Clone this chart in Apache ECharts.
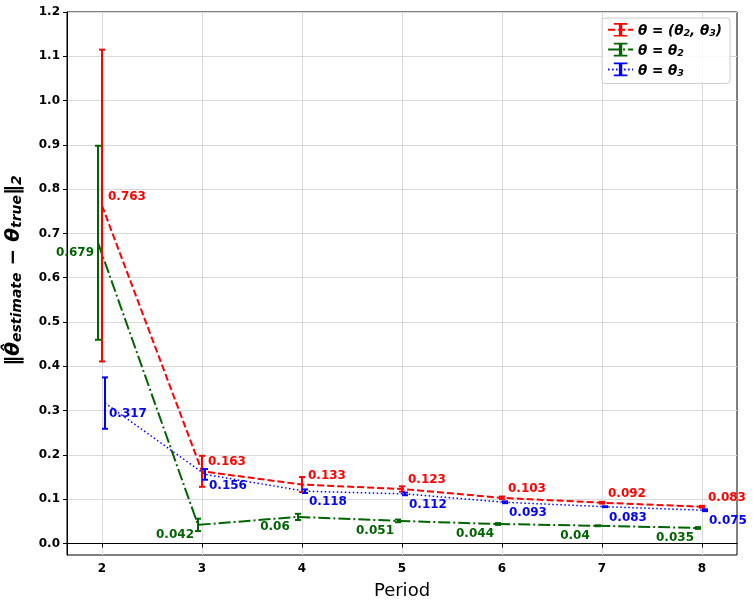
<!DOCTYPE html>
<html>
<head>
<meta charset="utf-8">
<script src="https://cdn.jsdelivr.net/npm/echarts@6/dist/echarts.min.js"></script>
<style>
html, body { margin: 0; padding: 0; background: #fff; }
#chart { width: 753px; height: 604px; }
</style>
</head>
<body>
<div id="chart"></div>
<script>
// data
const periods = [2, 3, 4, 5, 6, 7, 8];
const jointMean = [0.763, 0.163, 0.133, 0.123, 0.103, 0.092, 0.083];
const jointErr = [0.352, 0.035, 0.017, 0.006, 0.003, 0.002, 0.002];
const theta2Mean = [0.679, 0.042, 0.06, 0.051, 0.044, 0.04, 0.035];
const theta2Err = [0.219, 0.014, 0.007, 0.003, 0.002, 0.001, 0.002];
const theta3Mean = [0.317, 0.156, 0.118, 0.112, 0.093, 0.083, 0.075];
const theta3Err = [0.058, 0.012, 0.004, 0.003, 0.002, 0.001, 0.002];
const yTicks = [0, 0.1, 0.2, 0.3, 0.4, 0.5, 0.6, 0.7, 0.8, 0.9, 1.0, 1.1, 1.2];

const FONT = 'DejaVu Sans';

const myChart = echarts.init(document.getElementById('chart'));

// small horizontal shift so the error bars don't sit on top of each other
function pts(mean, shift) {
    return periods.map((p, i) => [p + shift, mean[i]]);
}
function bars(mean, err, shift) {
    return periods.map((p, i) => [p + shift, mean[i] - err[i], mean[i] + err[i]]);
}

function errorBar(color) {
    return function (params, api) {
        const x = api.value(0);
        const lo = api.coord([x, api.value(1)]);
        const hi = api.coord([x, api.value(2)]);
        const st = { stroke: color, lineWidth: 2 };
        const w = 3;
        return {
            type: 'group',
            children: [
                { type: 'line', shape: { x1: lo[0], y1: lo[1], x2: hi[0], y2: hi[1] }, style: st },
                { type: 'line', shape: { x1: lo[0] - w, y1: lo[1], x2: lo[0] + w, y2: lo[1] }, style: st },
                { type: 'line', shape: { x1: hi[0] - w, y1: hi[1], x2: hi[0] + w, y2: hi[1] }, style: st }
            ]
        };
    };
}

// I-beam used as the legend marker
const barIcon = 'path://M0,0 H8 V2 H5 V14 H8 V16 H0 V14 H3 V2 H0 Z';

const names = ['joint', 'theta2', 'theta3'];
const legendText = {
    joint: '{t|θ = (θ}{s|2}{t|, θ}{s|3}{t|)}',
    theta2: '{t|θ = θ}{s|2}',
    theta3: '{t|θ = θ}{s|3}'
};

function lineSeries(name, mean, shift, color, dash, width, labelPos, labelAlign) {
    return {
        name: name,
        type: 'line',
        data: pts(mean, shift),
        symbol: barIcon,
        symbolSize: 0,
        symbolKeepAspect: true,
        showSymbol: true,
        itemStyle: { color: color },
        lineStyle: { color: color, width: width, type: dash },
        label: {
            show: true,
            position: labelPos,
            align: labelAlign,
            verticalAlign: 'middle',
            color: color,
            fontFamily: FONT,
            fontWeight: 'bold',
            fontSize: 12,
            formatter: p => String(p.value[1])
        },
        z: 3
    };
}

function barSeries(name, mean, err, shift, color) {
    return {
        name: name,
        type: 'custom',
        data: bars(mean, err, shift),
        encode: { x: 0, y: [1, 2] },
        renderItem: errorBar(color),
        z: 4
    };
}

const option = {
    animation: false,
    grid: {
        left: 67, right: 16, top: 12, bottom: 49,
        outerBoundsMode: 'none',
        show: true, borderColor: '#000', borderWidth: 1
    },
    legend: {
        data: names,
        orient: 'vertical',
        right: 23,
        top: 18,
        itemWidth: 25,
        itemHeight: 17,
        itemGap: 4,
        padding: [5, 8, 5, 5],
        backgroundColor: 'rgba(255,255,255,0.8)',
        borderColor: '#cccccc',
        borderWidth: 1,
        borderRadius: 3,
        formatter: n => legendText[n],
        textStyle: {
            rich: {
                t: { fontFamily: FONT, fontWeight: 'bold', fontStyle: 'italic', fontSize: 13.5, color: '#000', verticalAlign: 'bottom', lineHeight: 18 },
                s: { fontFamily: FONT, fontWeight: 'bold', fontStyle: 'italic', fontSize: 9.5, color: '#000', verticalAlign: 'bottom', lineHeight: 14 }
            }
        }
    },
    xAxis: {
        type: 'value',
        min: 1.65,
        max: 8.35,
        name: 'Period',
        nameLocation: 'middle',
        nameGap: 27,
        nameTextStyle: { fontFamily: FONT, fontSize: 18, color: '#000' },
        axisLine: { lineStyle: { color: '#000', width: 1 } },
        axisTick: { show: true, length: 4, customValues: periods, lineStyle: { color: '#000' } },
        axisLabel: { customValues: periods, fontFamily: FONT, fontWeight: 'bold', fontSize: 12, color: '#000', margin: 8 },
        splitLine: { show: true, lineStyle: { color: '#d9d9d9', width: 1 } }
    },
    yAxis: {
        type: 'value',
        min: -0.026,
        max: 1.2,
        name: '{m|‖θ̂}{s|estimate}{m| − θ}{s|true}{n|‖}{s|2}',
        nameLocation: 'middle',
        nameGap: 43,
        nameRotate: 90,
        nameTextStyle: {
            padding: [0, 0, 0, 26],
            rich: {
                m: { fontFamily: FONT, fontWeight: 'bold', fontStyle: 'italic', fontSize: 20, color: '#000', verticalAlign: 'bottom', lineHeight: 25 },
                n: { fontFamily: FONT, fontWeight: 'bold', fontSize: 20, color: '#000', verticalAlign: 'bottom', lineHeight: 25 },
                s: { fontFamily: FONT, fontWeight: 'bold', fontStyle: 'italic', fontSize: 14, color: '#000', verticalAlign: 'bottom', lineHeight: 19 }
            }
        },
        axisLine: { show: true, lineStyle: { color: '#000', width: 1 } },
        axisTick: { show: true, length: 4, customValues: yTicks, lineStyle: { color: '#000' } },
        axisLabel: {
            customValues: yTicks,
            fontFamily: FONT, fontWeight: 'bold', fontSize: 12, color: '#000', margin: 7,
            formatter: v => v.toFixed(1)
        },
        splitLine: { show: true, lineStyle: { color: '#d9d9d9', width: 1 } }
    },
    series: [
        lineSeries('joint', jointMean, 0, '#ff0000', [7, 3], 2, [6, -9], 'left'),
        lineSeries('theta2', theta2Mean, -0.04, '#006400', [12, 3, 2, 3], 2, [-23, 10], 'center'),
        lineSeries('theta3', theta3Mean, 0.03, '#0000ff', [1.5, 2.5], 1.5, [4, 11], 'left'),
        barSeries('joint', jointMean, jointErr, 0, '#ff0000'),
        barSeries('theta2', theta2Mean, theta2Err, -0.04, '#006400'),
        barSeries('theta3', theta3Mean, theta3Err, 0.03, '#0000ff')
    ]
};

myChart.setOption(option);
</script>
</body>
</html>
